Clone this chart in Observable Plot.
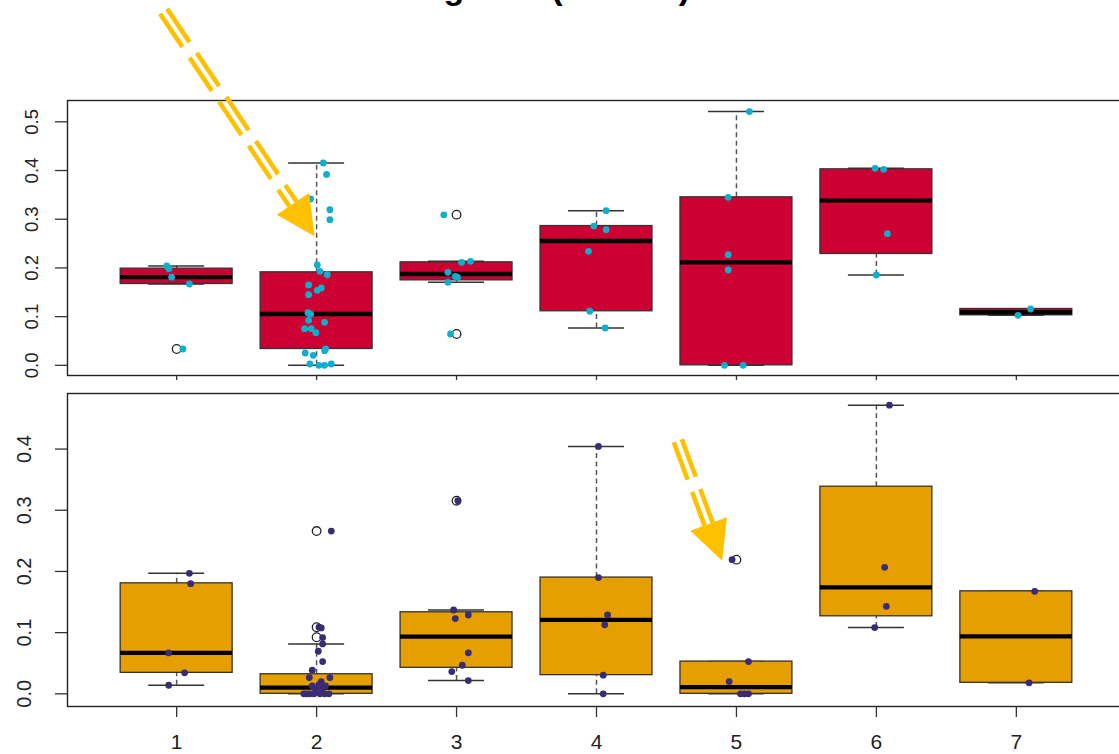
<!DOCTYPE html>
<html><head><meta charset="utf-8">
<script src="https://cdn.jsdelivr.net/npm/d3@7"></script>
<script src="https://cdn.jsdelivr.net/npm/@observablehq/plot@0.6"></script>
<style>
html,body{margin:0;padding:0;background:#fff;overflow:hidden;}
#chart{position:relative;width:1119px;height:754px;}
#chart svg{display:block;overflow:visible;}
</style></head><body><div id="chart"></div>
<script>
const groups = [1, 2, 3, 4, 5, 6, 7];
const topTicks = [0, 0.1, 0.2, 0.3, 0.4, 0.5];
const bottomTicks = [0, 0.1, 0.2, 0.3, 0.4];
const titleText = "Changes in (n = 106)";

// box statistics per group: lower whisker, Q1, median, Q3, upper whisker
const topLower  = [0.167, 0.000, 0.1704, 0.0766, 0.000, 0.1855, 0.1027];
const topQ1     = [0.167, 0.0335, 0.1745, 0.111, 0.000, 0.2286, 0.1027];
const topMedian = [0.181, 0.1054, 0.1875, 0.2553, 0.2115, 0.338, 0.109];
const topQ3     = [0.1985, 0.191, 0.2115, 0.286, 0.345, 0.4025, 0.1157];
const topUpper  = [0.204, 0.4155, 0.2135, 0.3176, 0.521, 0.4045, 0.1157];

const bottomLower  = [0.014, 0.000, 0.0217, 0.000, 0.000, 0.1083, 0.018];
const bottomQ1     = [0.0343, 0.000, 0.0425, 0.0305, 0.000, 0.1267, 0.018];
const bottomMedian = [0.0669, 0.0103, 0.0936, 0.1208, 0.0109, 0.174, 0.094];
const bottomQ3     = [0.1806, 0.032, 0.1333, 0.190, 0.0527, 0.3385, 0.1675];
const bottomUpper  = [0.197, 0.0816, 0.137, 0.4043, 0.0527, 0.4718, 0.1675];

// outliers [group, value]
const topOutliers = [[1, 0.0335], [3, 0.3094], [3, 0.0643]];
const bottomOutliers = [[2, 0.266], [2, 0.1088], [2, 0.0925], [3, 0.3156], [5, 0.2193]];

// jittered observations [jittered group, value]
const topPoints = [
  [0.929,0.204],[0.945,0.1985],[0.964,0.181],[1.091,0.167],[1.045,0.0335],
  [2.048,0.4155],[2.071,0.392],[1.957,0.3415],[2.095,0.3197],[2.095,0.299],[2.005,0.206],[2.024,0.193],
  [2.076,0.186],[1.943,0.165],[2.034,0.1588],[2.005,0.154],[1.943,0.145],[1.938,0.108],[1.957,0.105],
  [1.943,0.0924],[2.057,0.0883],[1.914,0.0753],[1.962,0.0753],[1.995,0.067],[2.064,0.0335],[2.057,0.030],
  [1.919,0.0253],[1.976,0.0205],[1.952,0.0027],[2.016,0],[2.057,0],[2.105,0.0027],
  [2.909,0.309],[3.036,0.2115],[3.1,0.2135],[2.938,0.191],[2.991,0.1828],[3.007,0.1807],[2.938,0.1704],[2.957,0.0643],
  [4.069,0.3176],[3.981,0.286],[4.069,0.2785],[3.943,0.234],[3.952,0.111],[4.062,0.0766],
  [5.093,0.521],[4.941,0.345],[4.941,0.2272],[4.941,0.1957],[4.914,0],[5.048,0],
  [5.991,0.4045],[6.052,0.4025],[6.079,0.2704],[6.0,0.1855],
  [7.102,0.1157],[7.012,0.1027]
];
const bottomPoints = [
  [1.091,0.197],[1.100,0.180],[0.943,0.0669],[1.057,0.0343],[0.943,0.014],
  [2.105,0.266],[2.017,0.1088],[2.033,0.1077],[2.043,0.092],[2.043,0.0816],[2.012,0.0696],[2.043,0.0527],
  [1.969,0.0386],[1.948,0.0266],[2.095,0.0266],[2.033,0.020],[1.969,0.013],[2.017,0.015],[2.064,0.013],
  [1.993,0.008],[2.041,0.008],[1.909,0],[1.929,0],[1.952,0],[1.981,0],[2.024,0],[2.057,0],[2.088,0],
  [3.009,0.3156],[2.979,0.137],[2.991,0.123],[3.084,0.129],[3.084,0.067],[3.041,0.0467],[2.966,0.0364],[3.084,0.0217],
  [4.014,0.4043],[4.014,0.190],[4.079,0.129],[4.059,0.1127],[4.048,0.0305],[4.048,0],
  [4.969,0.2193],[5.086,0.0527],[4.948,0.0201],[5.029,0],[5.086,0],[5.057,0],
  [6.093,0.4718],[6.059,0.2067],[6.071,0.143],[5.988,0.1083],
  [7.131,0.1675],[7.091,0.018]
];

// annotation arrows: start and tip in data units of each panel
const topArrows = [{x1: 0.907, y1: 0.727, x2: 1.986, y2: 0.265}];
const bottomArrows = [{x1: 4.581, y1: 0.4136, x2: 4.898, y2: 0.2176}];

const W = 1119, ML = 67, MR = -6;
const XDOMAIN = [0.22, 7.78];
const ARROW = "#FFC000";

function boxes(lo, q1, med, q3, hi) {
  return groups.map((g, i) => ({g, lo: lo[i], q1: q1[i], med: med[i], q3: q3[i], hi: hi[i]}));
}

function arrowMarks(arrows, yDomain, height, mt, mb) {
  const xs = d3.scaleLinear(XDOMAIN, [ML, W - MR]);
  const ys = d3.scaleLinear(yDomain, [height - mb, mt]);
  const marks = [];
  const headLen = 39, headHalf = 19.5, gap = 4.3;
  for (const a of arrows) {
    const p0 = [xs(a.x1), ys(a.y1)], p1 = [xs(a.x2), ys(a.y2)];
    const L = Math.hypot(p1[0] - p0[0], p1[1] - p0[1]);
    const u = [(p1[0] - p0[0]) / L, (p1[1] - p0[1]) / L];
    const n = [-u[1], u[0]];
    const base = [p1[0] - u[0] * headLen, p1[1] - u[1] * headLen];
    const seg = [{x1: a.x1, y1: a.y1, x2: xs.invert(base[0]), y2: ys.invert(base[1])}];
    for (const s of [-1, 1]) {
      marks.push(Plot.link(seg, {x1: "x1", y1: "y1", x2: "x2", y2: "y2",
        stroke: ARROW, strokeWidth: 4.6, strokeDasharray: "40,13", strokeLinecap: "butt",
        dx: s * n[0] * gap, dy: s * n[1] * gap}));
    }
    const tri = [p1,
      [base[0] + n[0] * headHalf, base[1] + n[1] * headHalf],
      [base[0] - n[0] * headHalf, base[1] - n[1] * headHalf]
    ].map(p => ({x: xs.invert(p[0]), y: ys.invert(p[1])}));
    marks.push(Plot.line(tri, {x: "x", y: "y", fill: ARROW, stroke: "none"}));
  }
  return marks;
}

function panel(o) {
  const bx = boxes(...o.stats);
  const marks = [
    Plot.ruleX(bx, {x: "g", y1: "q3", y2: "hi", stroke: "#555", strokeWidth: 1.5, strokeDasharray: "5,3.5"}),
    Plot.ruleX(bx, {x: "g", y1: "lo", y2: "q1", stroke: "#555", strokeWidth: 1.5, strokeDasharray: "5,3.5"}),
    Plot.ruleY(bx, {y: "hi", x1: d => d.g - 0.2, x2: d => d.g + 0.2, stroke: "#333", strokeWidth: 1.5}),
    Plot.ruleY(bx, {y: "lo", x1: d => d.g - 0.2, x2: d => d.g + 0.2, stroke: "#333", strokeWidth: 1.5}),
    Plot.rect(bx, {x1: d => d.g - 0.4, x2: d => d.g + 0.4, y1: "q1", y2: "q3", fill: o.fill, stroke: "#333", strokeWidth: 1.3}),
    Plot.ruleY(bx, {y: "med", x1: d => d.g - 0.4, x2: d => d.g + 0.4, stroke: "#000", strokeWidth: 4.3}),
    Plot.dot(o.outliers, {x: d => d[0], y: d => d[1], r: 4.3, stroke: "#222", fill: "none", strokeWidth: 1.3}),
    Plot.dot(o.points, {x: d => d[0], y: d => d[1], r: 3.4, fill: o.dot, stroke: "none"}),
    Plot.frame({stroke: "#222", strokeWidth: 1.4}),
    Plot.axisY(o.ticks, {tickSize: 12, tickFormat: () => "", stroke: "#333", strokeWidth: 1.3, label: null}),
    Plot.text(o.ticks, {y: d => d, frameAnchor: "left", dx: o.labelDx, rotate: -90, text: d => d.toFixed(1),
      fontSize: o.labelSize, fill: "#222", textAnchor: "middle", lineAnchor: "middle"}),
    Plot.axisX(groups, {tickSize: o.xTickSize, tickFormat: () => "", stroke: "#333", strokeWidth: 1.3, label: null})
  ];
  if (o.xLabels) {
    marks.push(Plot.text(groups, {x: d => d, frameAnchor: "bottom", dy: 36, text: d => String(d),
      fontSize: 21, fill: "#222", lineAnchor: "middle"}));
  }
  if (o.title) {
    marks.push(Plot.text([o.title], {frameAnchor: "top-left", dx: 291, dy: -(o.mt + 2), text: d => d,
      textAnchor: "start", lineAnchor: "bottom", fontSize: 34, fontWeight: "bold", fill: "#000"}));
  }
  marks.push(...arrowMarks(o.arrows, o.yDomain, o.height, o.mt, o.mb));
  return Plot.plot({
    width: W, height: o.height,
    marginLeft: ML, marginRight: MR, marginTop: o.mt, marginBottom: o.mb,
    x: {type: "linear", domain: XDOMAIN},
    y: {type: "linear", domain: o.yDomain},
    style: {fontFamily: "'Liberation Sans', Arial, sans-serif", background: "white", overflow: "visible"},
    marks
  });
}

const chart = document.getElementById("chart");
chart.appendChild(panel({
  height: 390, mt: 100, mb: 15, yDomain: [-0.0209, 0.5438], ticks: topTicks,
  stats: [topLower, topQ1, topMedian, topQ3, topUpper],
  outliers: topOutliers, points: topPoints, fill: "#CC0033", dot: "#10AECD",
  labelDx: -35.5, labelSize: 18.5, xTickSize: 5, xLabels: false, title: titleText, arrows: topArrows
}));
chart.appendChild(panel({
  height: 364, mt: 3, mb: 48, yDomain: [-0.0207, 0.4908], ticks: bottomTicks,
  stats: [bottomLower, bottomQ1, bottomMedian, bottomQ3, bottomUpper],
  outliers: bottomOutliers, points: bottomPoints, fill: "#E69F00", dot: "#3B2B73",
  labelDx: -42.5, labelSize: 20, xTickSize: 11, xLabels: true, title: null, arrows: bottomArrows
}));
</script></body></html>
